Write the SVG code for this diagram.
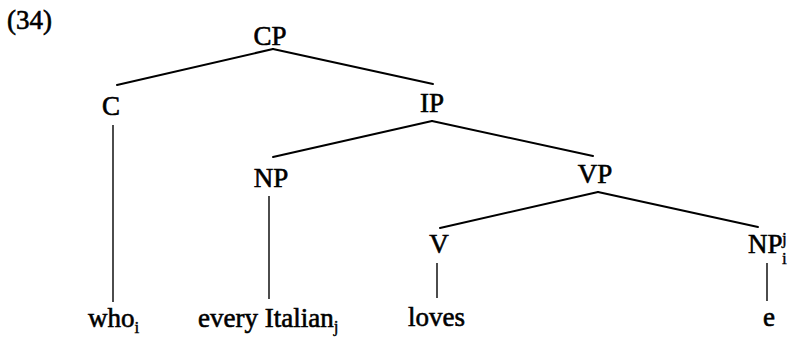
<svg xmlns="http://www.w3.org/2000/svg" width="788" height="337" viewBox="0 0 788 337">
<style>
text{font-family:"Liberation Serif","Times New Roman",serif;font-size:27px;fill:#000;stroke:#000;stroke-width:0.6}
.sub{font-size:17px;stroke-width:0.4}
.b{stroke:#000;stroke-width:2;fill:none;stroke-linecap:round}
.v{stroke:#000;stroke-width:1.4;fill:none}
</style>
<rect width="788" height="337" fill="#fff"/>
<text x="7" y="29" stroke-width="0.2">(34)</text>
<g id="connectors">
<line class="b" x1="273" y1="49" x2="117" y2="85"/>
<line class="b" x1="273" y1="49" x2="433" y2="84"/>
<line class="b" x1="432" y1="121" x2="273" y2="157"/>
<line class="b" x1="432" y1="121" x2="593" y2="156"/>
<line class="b" x1="598" y1="192" x2="440" y2="228"/>
<line class="b" x1="598" y1="192" x2="758" y2="227"/>
<line class="v" x1="113" y1="125" x2="113" y2="302"/>
<line class="v" x1="269" y1="196" x2="269" y2="299"/>
<line class="v" x1="437" y1="263" x2="437" y2="298"/>
<line class="v" x1="767" y1="263" x2="767" y2="301"/>
</g>
<g id="CP"><text x="270" y="45" text-anchor="middle">CP</text></g>
<g id="C"><text x="111" y="115" text-anchor="middle">C</text></g>
<g id="IP"><text x="432" y="112" text-anchor="middle">IP</text></g>
<g id="NP1"><text x="271" y="187" text-anchor="middle">NP</text></g>
<g id="VP"><text x="595" y="183" text-anchor="middle">VP</text></g>
<g id="V"><text x="439" y="253" text-anchor="middle">V</text></g>
<g id="NP2"><text x="748" y="253">NP</text><text class="sub" x="782" y="244">j</text><text class="sub" x="782" y="264">i</text></g>
<g id="who"><text x="88" y="327">who<tspan class="sub" dy="6">i</tspan></text></g>
<g id="every-italian"><text x="198" y="327">every Italian<tspan class="sub" dy="5">j</tspan></text></g>
<g id="loves"><text x="408" y="326">loves</text></g>
<g id="e"><text x="769" y="326" text-anchor="middle">e</text></g>
</svg>
